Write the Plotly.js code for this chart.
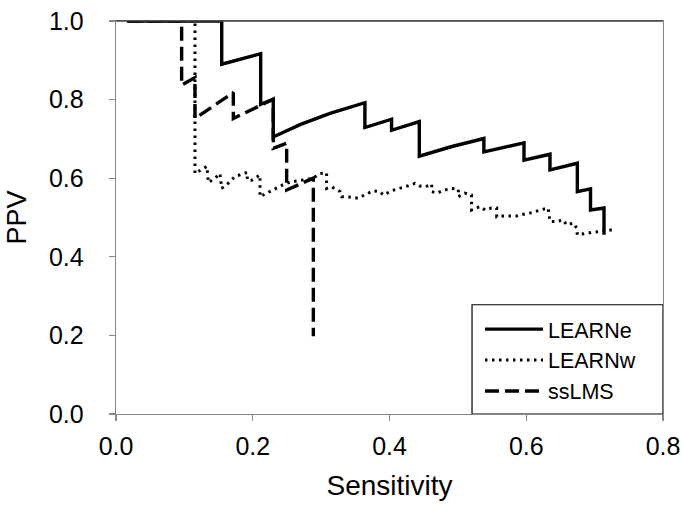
<!DOCTYPE html>
<html>
<head>
<meta charset="utf-8">
<script src="https://cdn.plot.ly/plotly-3.0.1.min.js"></script>
<style>html,body{margin:0;padding:0;background:#fff;}#chart{width:683px;height:514px;}</style>
</head>
<body>
<div id="chart"></div>
<script>
// LEARNe (solid)
const learneX = [0.0166, 0.1546, 0.1546, 0.2116, 0.2116, 0.230, 0.230, 0.270, 0.313, 0.364, 0.364, 0.403, 0.403, 0.4436, 0.4436, 0.490, 0.538, 0.538, 0.5967, 0.5967, 0.6347, 0.6347, 0.6747, 0.6747, 0.694, 0.694, 0.7137, 0.7137];
const learneY = [1.0, 1.0, 0.890, 0.917, 0.788, 0.801, 0.705, 0.737, 0.765, 0.792, 0.729, 0.750, 0.722, 0.744, 0.656, 0.680, 0.701, 0.667, 0.690, 0.646, 0.661, 0.621, 0.638, 0.566, 0.573, 0.519, 0.524, 0.456];

// LEARNw (dotted)
const learnwX = [0.0166, 0.1155, 0.1155, 0.133, 0.135, 0.145, 0.152, 0.1546, 0.164, 0.174, 0.192, 0.192, 0.1985, 0.2106, 0.2106, 0.2204, 0.2325, 0.2438, 0.255, 0.270, 0.2886, 0.2983, 0.308, 0.308, 0.3154, 0.3276, 0.330, 0.3374, 0.3544, 0.3666, 0.3763, 0.386, 0.391, 0.403, 0.4154, 0.426, 0.4373, 0.4446, 0.452, 0.4617, 0.4617, 0.469, 0.481, 0.491, 0.5007, 0.5007, 0.510, 0.520, 0.520, 0.5324, 0.5397, 0.549, 0.5568, 0.5568, 0.5665, 0.586, 0.598, 0.610, 0.620, 0.632, 0.6347, 0.6445, 0.654, 0.659, 0.669, 0.6737, 0.6747, 0.686, 0.6957, 0.708, 0.7176, 0.7298];
const learnwY = [1.0, 1.0, 0.612, 0.630, 0.589, 0.600, 0.612, 0.574, 0.587, 0.604, 0.615, 0.595, 0.595, 0.608, 0.553, 0.562, 0.574, 0.583, 0.590, 0.595, 0.600, 0.612, 0.614, 0.574, 0.578, 0.566, 0.553, 0.553, 0.549, 0.560, 0.568, 0.566, 0.557, 0.568, 0.574, 0.580, 0.587, 0.580, 0.578, 0.585, 0.566, 0.562, 0.570, 0.574, 0.572, 0.553, 0.562, 0.557, 0.519, 0.528, 0.519, 0.524, 0.524, 0.502, 0.504, 0.504, 0.509, 0.513, 0.519, 0.524, 0.490, 0.490, 0.494, 0.481, 0.486, 0.473, 0.456, 0.460, 0.462, 0.464, 0.4685, 0.4685];

// ssLMS (dashed)
const sslmsX = [0.0166, 0.096, 0.096, 0.1155, 0.1155, 0.1716, 0.1716, 0.213, 0.230, 0.230, 0.2496, 0.2496, 0.2886, 0.2886];
const sslmsY = [1.0, 1.0, 0.837, 0.856, 0.752, 0.818, 0.752, 0.788, 0.801, 0.676, 0.689, 0.570, 0.600, 0.198];

const seriesNames = ['LEARNe', 'LEARNw', 'ssLMS'];
const xTicks = [0, 0.2, 0.4, 0.6, 0.8];
const xTickText = ['0.0', '0.2', '0.4', '0.6', '0.8'];
const yTicks = [0, 0.2, 0.4, 0.6, 0.8, 1.0];
const yTickText = ['0.0', '0.2', '0.4', '0.6', '0.8', '1.0'];

const FONT = 'Liberation Sans, Arial, sans-serif';

const traces = [
  {x: learneX, y: learneY, name: seriesNames[0], mode: 'lines', line: {color: '#000', width: 3.4, dash: 'solid'}},
  {x: learnwX, y: learnwY, name: seriesNames[1], mode: 'lines', line: {color: '#000', width: 3, dash: '2.5px,4.5px'}},
  {x: sslmsX, y: sslmsY, name: seriesNames[2], mode: 'lines', line: {color: '#000', width: 3.4, dash: '14px,6px'}}
];

const layout = {
  width: 683, height: 514,
  margin: {l: 116, r: 20, t: 21, b: 99.5},
  paper_bgcolor: '#fff', plot_bgcolor: '#fff',
  font: {family: FONT, color: '#000', size: 25},
  showlegend: true,
  legend: {
    x: 0.6654, xanchor: 'left', y: 0.268, yanchor: 'top',
    bgcolor: 'rgba(0,0,0,0)', borderwidth: 0,
    font: {family: FONT, size: 21.5, color: '#000'},
    itemwidth: 58, tracegroupgap: 0
  },
  xaxis: {
    range: [0, 0.8], tickvals: xTicks, ticktext: xTickText,
    showgrid: false, zeroline: false,
    showline: true, linecolor: '#868686', linewidth: 1.3, mirror: true,
    ticks: 'outside', ticklen: 6, tickcolor: '#868686', tickwidth: 1.3,
    ticklabelstandoff: 4,
    tickfont: {family: FONT, size: 25, color: '#000'},
    title: {text: 'Sensitivity', font: {family: FONT, size: 28, color: '#000'}, standoff: 16}
  },
  yaxis: {
    range: [0, 1.0], tickvals: yTicks, ticktext: yTickText,
    showgrid: false, zeroline: false,
    showline: true, linecolor: '#868686', linewidth: 1.3, mirror: true,
    ticks: 'outside', ticklen: 6, tickcolor: '#868686', tickwidth: 1.3,
    ticklabelstandoff: 20,
    tickfont: {family: FONT, size: 25, color: '#000'},
    title: {text: 'PPV', font: {family: FONT, size: 27, color: '#000'}, standoff: 14}
  },
  shapes: [
    {type: 'rect', xref: 'x', yref: 'y', x0: 0.5207, x1: 0.8, y0: 0, y1: 0.278,
     line: {color: '#000', width: 1.2}, fillcolor: '#fff', layer: 'below'},
    {type: 'line', xref: 'paper', yref: 'paper', x0: 0, x1: 1, y0: 1, y1: 1,
     line: {color: '#404040', width: 1.3}}
  ]
};

Plotly.newPlot('chart', traces, layout, {displayModeBar: false, staticPlot: true});
</script>
</body>
</html>
